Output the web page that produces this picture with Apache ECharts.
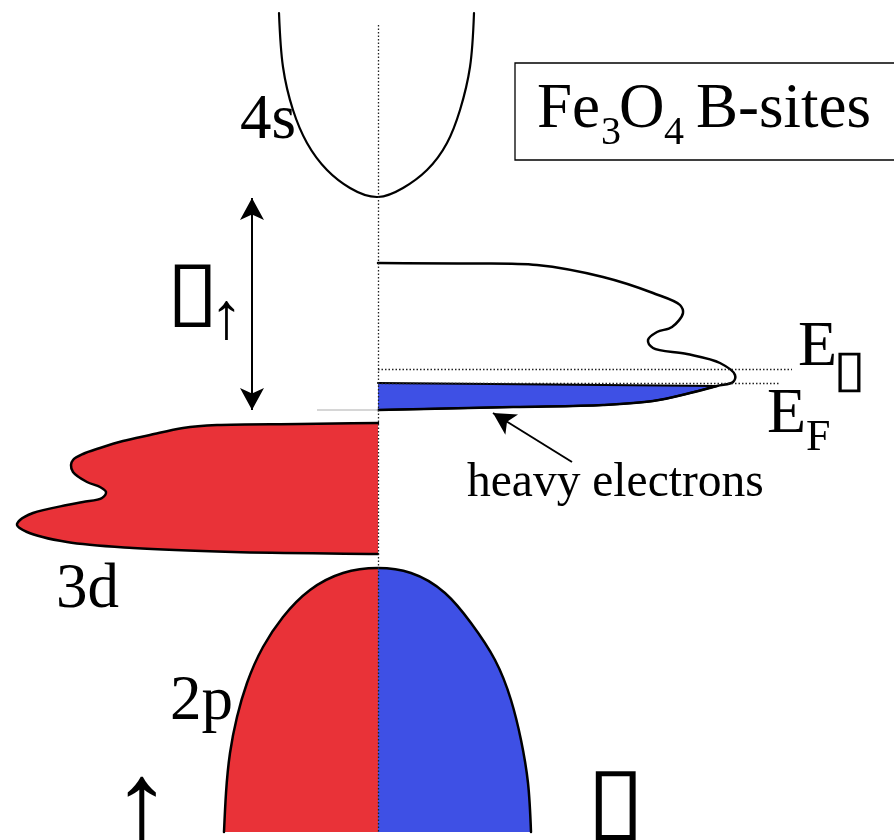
<!DOCTYPE html>
<html><head><meta charset="utf-8">
<script src="https://cdn.jsdelivr.net/npm/echarts@6/dist/echarts.min.js"></script>
<style>html,body{margin:0;padding:0;background:#fff}#c{width:894px;height:840px}</style>
</head><body><div id="c"></div>
<script>
// x = density of states (negative: spin up, positive: spin down), y = energy (E_F = 0)
const band4s = [[-0.99,3.70],[-0.95,3.16],[-0.85,2.73],[-0.71,2.40],[-0.51,2.13],[-0.28,1.95],[0,1.86],[0.25,1.95],[0.49,2.13],[0.69,2.40],[0.82,2.73],[0.92,3.16],[0.96,3.70]];
const downT2gUpper = [[0,1.20],[0.80,1.195],[1.59,1.18],[2.25,1.06],[2.75,0.90],[3.02,0.78],[3.05,0.70],[2.94,0.56],[2.79,0.51],[2.70,0.43],[2.75,0.35],[3.09,0.29],[3.42,0.20],[3.57,0.08],[3.55,0.01]];
const downT2gLower = [[3.39,-0.03],[3.12,-0.10],[2.75,-0.18],[2.25,-0.22],[1.35,-0.24],[0,-0.27]];
const up3d = [[0,-0.40],[-0.78,-0.41],[-1.61,-0.42],[-1.95,-0.45],[-2.28,-0.52],[-2.55,-0.58],[-2.78,-0.65],[-2.95,-0.71],[-3.05,-0.77],[-3.07,-0.82],[-3.05,-0.89],[-2.91,-0.99],[-2.78,-1.04],[-2.72,-1.09],[-2.76,-1.15],[-2.95,-1.19],[-3.11,-1.22],[-3.45,-1.30],[-3.58,-1.37],[-3.61,-1.42],[-3.51,-1.49],[-3.11,-1.59],[-2.45,-1.65],[-1.45,-1.69],[0,-1.71]];
const p2Up = [[0,-1.85],[-0.35,-1.90],[-0.68,-2.07],[-0.95,-2.34],[-1.15,-2.64],[-1.31,-3.00],[-1.41,-3.34],[-1.48,-3.70],[-1.52,-4.10],[-1.54,-4.49]];
const p2Down = [[0,-1.85],[0.33,-1.90],[0.67,-2.10],[0.93,-2.40],[1.17,-2.77],[1.33,-3.17],[1.43,-3.57],[1.50,-4.00],[1.53,-4.49]];
const EF = 0;
const EDelta = 0.14;
const axisTop = 3.58, axisBottom = -4.49;
const gapArrow = [[-1.26,1.85],[-1.26,-0.27]];
const heavyArrow = [[1.94,-0.79],[1.15,-0.30]];
const levelLineEnds = {EDelta: 4.14, EF: 4.02};
const greyStub = [[-0.61,-0.27],[0,-0.27]];

const RED = '#e93238', BLUE = '#3e50e5';
const SERIF = "'Liberation Serif','Times New Roman',serif";

// centripetal Catmull-Rom -> bezier segments [c1, c2, end]
function crSegs(p) {
  const a = 0.5, n = p.length;
  const P = (i) => {
    if (i < 0) return [2*p[0][0]-p[1][0], 2*p[0][1]-p[1][1]];
    if (i >= n) return [2*p[n-1][0]-p[n-2][0], 2*p[n-1][1]-p[n-2][1]];
    return p[i];
  };
  const dist = (u, v) => Math.max(1e-6, Math.pow(Math.hypot(u[0]-v[0], u[1]-v[1]), a));
  const segs = [];
  for (let i = 0; i < n - 1; i++) {
    const p0 = P(i-1), p1 = P(i), p2 = P(i+1), p3 = P(i+2);
    const d1 = dist(p0, p1), d2 = dist(p1, p2), d3 = dist(p2, p3);
    const c1 = [0,1].map(k => (d1*d1*p2[k] - d2*d2*p0[k] + (2*d1*d1 + 3*d1*d2 + d2*d2)*p1[k]) / (3*d1*(d1+d2)));
    const c2 = [0,1].map(k => (d3*d3*p1[k] - d2*d2*p3[k] + (2*d3*d3 + 3*d3*d2 + d2*d2)*p2[k]) / (3*d3*(d3+d2)));
    segs.push([c1, c2, p2]);
  }
  return segs;
}
// chord-length natural cubic spline -> bezier segments
function natSegs(p) {
  const n = p.length, h = [];
  for (let i = 0; i < n - 1; i++) h.push(Math.max(1e-6, Math.hypot(p[i+1][0]-p[i][0], p[i+1][1]-p[i][1])));
  const M = [0,1].map(k => {
    const m = new Array(n).fill(0);
    if (n < 3) return m;
    const A = [], B = [], C = [], R = [];
    for (let i = 1; i < n - 1; i++) {
      A.push(h[i-1]); B.push(2*(h[i-1]+h[i])); C.push(h[i]);
      R.push(6*((p[i+1][k]-p[i][k])/h[i] - (p[i][k]-p[i-1][k])/h[i-1]));
    }
    const N = R.length;
    for (let i = 1; i < N; i++) { const w = A[i]/B[i-1]; B[i] -= w*C[i-1]; R[i] -= w*R[i-1]; }
    const x = new Array(N);
    x[N-1] = R[N-1]/B[N-1];
    for (let i = N-2; i >= 0; i--) x[i] = (R[i] - C[i]*x[i+1]) / B[i];
    for (let i = 0; i < N; i++) m[i+1] = x[i];
    return m;
  });
  const segs = [];
  for (let i = 0; i < n - 1; i++) {
    const c1 = [0,1].map(k => { const D = (p[i+1][k]-p[i][k])/h[i] - h[i]*(2*M[k][i] + M[k][i+1])/6; return p[i][k] + h[i]*D/3; });
    const c2 = [0,1].map(k => { const D = (p[i+1][k]-p[i][k])/h[i] + h[i]*(M[k][i] + 2*M[k][i+1])/6; return p[i+1][k] - h[i]*D/3; });
    segs.push([c1, c2, p[i+1]]);
  }
  return segs;
}
const segStr = (segs) => segs.map(s => ' C' + s[0].join(' ') + ' ' + s[1].join(' ') + ' ' + s[2].join(' ')).join('');

function shape(name, pts, cfg) {
  return {
    type: 'custom', name: name, coordinateSystem: 'cartesian2d', data: pts, silent: true,
    animation: false, z: cfg.z || 2, clip: false,
    renderItem: function (params, api) {
      if (params.dataIndex !== 0) return null;
      const px = pts.map(p => api.coord(p));
      const segs = (cfg.natural ? natSegs : crSegs)(px);
      const kids = [];
      const head = cfg.start ? 'M' + api.coord(cfg.start).join(' ') + ' L' + px[0].join(' ') : 'M' + px[0].join(' ');
      if (cfg.fills) {
        cfg.fills.forEach(f => {
          let d = 'M' + px[f[0]].join(' ') + segStr(segs.slice(f[0], f[1])) + ' L' + api.coord(f[3]).join(' ') + ' Z';
          kids.push({type: 'path', shape: {pathData: d}, style: {fill: f[2], stroke: 'none'}});
        });
      }
      if (cfg.fill) {
        let d = head + segStr(segs);
        if (cfg.end) d += ' L' + api.coord(cfg.end).join(' ');
        d += ' Z';
        kids.push({type: 'path', shape: {pathData: d}, style: {fill: cfg.fill, stroke: 'none'}});
      }
      if (cfg.stroke) {
        kids.push({type: 'path', shape: {pathData: head + segStr(segs)},
          style: {fill: 'none', stroke: cfg.stroke, lineWidth: cfg.lw || 2.5, lineJoin: 'round', lineCap: 'round'}});
      }
      return {type: 'group', children: kids};
    }
  };
}
function txt(x, base, s, fs, sx) {
  return {type: 'text', x: x, y: base - 0.3375 * fs, z: 20, scaleX: sx || 1,
    style: {text: s, fontSize: fs, fontFamily: SERIF, fill: '#000', align: 'left', verticalAlign: 'middle'}};
}

const p2Outline = p2Up.slice().reverse().concat(p2Down.slice(1));
const p2Top = p2Up.length - 1;
const BOX = '\u25AF';

const chart = echarts.init(document.getElementById('c'), null, {renderer: 'canvas'});
chart.setOption({
  animation: false,
  backgroundColor: '#fff',
  grid: {left: 0, right: 0, top: 0, bottom: 0},
  xAxis: {type: 'value', min: -3.78, max: 5.16, show: false},
  yAxis: {type: 'value', min: -4.57, max: 3.83, show: false},
  series: [
    shape('4s', band4s, {stroke: '#000', lw: 2.2, natural: true}),
    shape('3d up', up3d, {fill: RED, stroke: '#000'}),
    shape('3d down occupied', downT2gLower, {fill: BLUE, start: [0, EF]}),
    shape('3d down', downT2gUpper.concat(downT2gLower), {stroke: '#000'}),
    shape('3d down occupied edge', downT2gLower, {stroke: '#000', start: [0, EF], lw: 2}),
    shape('2p', p2Outline, {stroke: '#000', natural: true,
      fills: [[0, p2Top, RED, [0, axisBottom]], [p2Top, p2Outline.length - 1, BLUE, [0, axisBottom]]]}),
    {
      type: 'line', data: [], z: 6, silent: true,
      markLine: {
        silent: true, animation: false, symbol: ['none', 'none'], label: {show: false},
        lineStyle: {color: '#222', width: 1.3, type: [1.5, 2]},
        data: [
          [{coord: [0, axisTop]}, {coord: [0, axisBottom]}],
          [{coord: [0, EDelta]}, {coord: [levelLineEnds.EDelta, EDelta]}],
          [{coord: [0, EF]}, {coord: [levelLineEnds.EF, EF]}]
        ]
      }
    },
    {
      type: 'line', data: [], z: 7, silent: true,
      markLine: {
        silent: true, animation: false, label: {show: false}, symbolSize: [18, 22],
        lineStyle: {color: '#000', width: 2, type: 'solid'},
        data: [
          [{coord: gapArrow[0], symbol: 'arrow'}, {coord: gapArrow[1], symbol: 'arrow'}],
          [{coord: heavyArrow[0], symbol: 'none'}, {coord: heavyArrow[1], symbol: 'arrow'}],
          [{coord: greyStub[0], symbol: 'none', lineStyle: {color: '#c8c8c8', width: 1.5}}, {coord: greyStub[1], symbol: 'none'}]
        ]
      }
    }
  ],
  graphic: [
    {type: 'rect', z: 20, shape: {x: 515, y: 63, width: 382, height: 97}, style: {fill: 'none', stroke: '#000', lineWidth: 1.3}},
    txt(537, 132, 'Fe', 63),
    txt(601, 147, '3', 40),
    txt(619, 132, 'O', 63),
    txt(664, 147, '4', 40),
    txt(696, 132, 'B-sites', 63),
    txt(240, 143, '4s', 63),
    txt(56, 612, '3d', 63),
    txt(170, 724, '2p', 63),
    txt(798, 370, 'E', 64),
    txt(833, 390, BOX, 52, 1.15),
    txt(767, 437, 'E', 64),
    txt(806, 453, 'F', 44),
    txt(166, 323, BOX, 82, 1.18),
    txt(210, 343, '\u2191', 66),
    txt(467, 500, 'heavy electrons', 47.5),
    txt(112, 853, '\u2191', 120),
    txt(586, 836, BOX, 90, 1.2)
  ]
});
</script></body></html>
